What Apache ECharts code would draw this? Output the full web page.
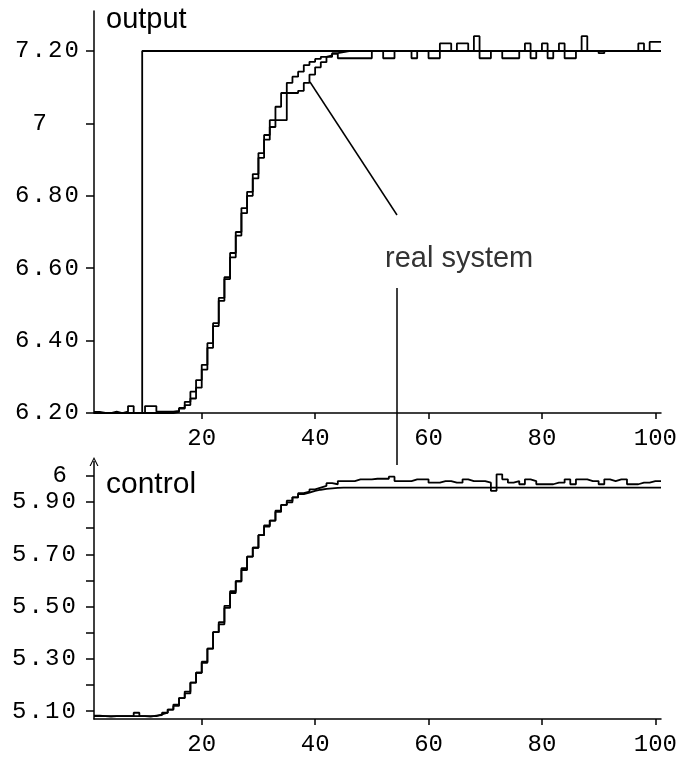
<!DOCTYPE html>
<html>
<head>
<meta charset="utf-8">
<script src="https://cdn.jsdelivr.net/npm/echarts@6/dist/echarts.min.js"></script>
<style>
  html, body { margin: 0; padding: 0; background: #fff; }
  #main { width: 692px; height: 757px; }
</style>
</head>
<body>
<div id="main"></div>
<script>
// one sample per time step, each value held until the next step
var steps = [];
for (var i = 1; i <= 101; i++) steps.push(i);

// setpoint (jumps from 6.20 to 7.20)
var setpointT = [1, 9.5, 9.5, 101];
var setpointV = [6.2, 6.2, 7.2, 7.2];

// output of the model
var outputModel = [
  6.200, 6.200, 6.200, 6.200, 6.200, 6.200, 6.200, 6.200, 6.200, 6.200,
  6.200, 6.200, 6.200, 6.200, 6.203, 6.212, 6.231, 6.259, 6.291, 6.333,
  6.393, 6.448, 6.518, 6.570, 6.642, 6.700, 6.766, 6.811, 6.860, 6.918,
  6.968, 7.009, 7.046, 7.084, 7.112, 7.129, 7.143, 7.161, 7.170, 7.178,
  7.184, 7.188, 7.194, 7.197, 7.200, 7.200, 7.200, 7.200, 7.200, 7.200,
  7.200, 7.200, 7.200, 7.200, 7.200, 7.200, 7.200, 7.200, 7.200, 7.200,
  7.200, 7.200, 7.200, 7.200, 7.200, 7.200, 7.200, 7.200, 7.200, 7.200,
  7.200, 7.200, 7.200, 7.200, 7.200, 7.200, 7.200, 7.200, 7.200, 7.200,
  7.200, 7.200, 7.200, 7.200, 7.200, 7.200, 7.200, 7.200, 7.200, 7.200,
  7.200, 7.200, 7.200, 7.200, 7.200, 7.200, 7.200, 7.200, 7.200, 7.200,
  7.200
];

// output of the real system (noisy)
var outputReal = [
  6.203, 6.200, 6.200, 6.204, 6.200, 6.204, 6.219, 6.200, 6.200, 6.219,
  6.219, 6.204, 6.204, 6.204, 6.206, 6.214, 6.222, 6.240, 6.270, 6.320,
  6.380, 6.440, 6.510, 6.575, 6.630, 6.690, 6.752, 6.800, 6.848, 6.905,
  6.955, 6.990, 7.009, 7.009, 7.084, 7.084, 7.090, 7.112, 7.135, 7.155,
  7.169, 7.184, 7.192, 7.180, 7.180, 7.180, 7.180, 7.180, 7.180, 7.200,
  7.200, 7.180, 7.180, 7.200, 7.200, 7.200, 7.180, 7.200, 7.200, 7.180,
  7.180, 7.221, 7.221, 7.200, 7.221, 7.221, 7.200, 7.241, 7.180, 7.180,
  7.200, 7.200, 7.180, 7.180, 7.180, 7.200, 7.221, 7.180, 7.200, 7.221,
  7.180, 7.200, 7.221, 7.180, 7.180, 7.200, 7.241, 7.200, 7.200, 7.194,
  7.200, 7.200, 7.200, 7.200, 7.200, 7.200, 7.221, 7.200, 7.225, 7.225,
  7.225
];

// control signal, model
var controlModel = [
  5.081, 5.081, 5.081, 5.081, 5.081, 5.081, 5.081, 5.081, 5.081, 5.081,
  5.081, 5.088, 5.094, 5.106, 5.125, 5.150, 5.175, 5.209, 5.247, 5.289,
  5.339, 5.402, 5.440, 5.503, 5.559, 5.597, 5.647, 5.691, 5.725, 5.773,
  5.811, 5.829, 5.867, 5.889, 5.899, 5.918, 5.930, 5.936, 5.943, 5.947,
  5.950, 5.952, 5.954, 5.955, 5.955, 5.955, 5.955, 5.955, 5.955, 5.955,
  5.955, 5.955, 5.955, 5.955, 5.955, 5.955, 5.955, 5.955, 5.955, 5.955,
  5.955, 5.955, 5.955, 5.955, 5.955, 5.955, 5.955, 5.955, 5.955, 5.955,
  5.955, 5.955, 5.955, 5.955, 5.955, 5.955, 5.955, 5.955, 5.955, 5.955,
  5.955, 5.955, 5.955, 5.955, 5.955, 5.955, 5.955, 5.955, 5.955, 5.955,
  5.955, 5.955, 5.955, 5.955, 5.955, 5.955, 5.955, 5.955, 5.955, 5.955,
  5.955
];

// control signal, real system
var controlReal = [
  5.083, 5.081, 5.079, 5.081, 5.081, 5.081, 5.081, 5.094, 5.081, 5.079,
  5.083, 5.085, 5.094, 5.106, 5.120, 5.150, 5.168, 5.209, 5.247, 5.285,
  5.339, 5.402, 5.432, 5.495, 5.552, 5.597, 5.640, 5.691, 5.725, 5.773,
  5.806, 5.829, 5.862, 5.889, 5.905, 5.918, 5.934, 5.940, 5.948, 5.955,
  5.962, 5.972, 5.968, 5.980, 5.980, 5.980, 5.987, 5.987, 5.987, 5.989,
  5.989, 5.989, 5.997, 5.980, 5.980, 5.980, 5.987, 5.987, 5.987, 5.974,
  5.974, 5.980, 5.980, 5.974, 5.974, 5.987, 5.980, 5.980, 5.980, 5.974,
  5.943, 6.006, 5.987, 5.974, 5.980, 5.968, 5.987, 5.980, 5.968, 5.968,
  5.968, 5.974, 5.974, 5.987, 5.968, 5.987, 5.987, 5.980, 5.980, 5.968,
  5.987, 5.980, 5.987, 5.987, 5.968, 5.968, 5.974, 5.974, 5.980, 5.980,
  5.980
];

// axis ticks and labels
var timeTicks = [20, 40, 60, 80, 100];
var outTicks = [6.2, 6.4, 6.6, 6.8, 7.0, 7.2];
var outLabels = ['6.20', '6.40', '6.60', '6.80', '7', '7.20'];
var ctrlTicks = [5.1, 5.2, 5.3, 5.4, 5.5, 5.6, 5.7, 5.8, 5.9, 6.0];
var ctrlLabelVals = [5.1, 5.3, 5.5, 5.7, 5.9, 6.0];
var ctrlLabels = ['5.10', '5.30', '5.50', '5.70', '5.90', '6'];

function pairs(ts, vs) {
  return ts.map(function (t, k) { return [t, vs[k]]; });
}

// spread the characters a bit, like the original mono labels
function spaced(vals, labels, padSingle) {
  return function (v) {
    for (var k = 0; k < vals.length; k++) {
      if (Math.abs(vals[k] - v) < 1e-6) {
        var s = labels[k];
        var out = s.split('').map(function (c) { return '{c|' + c + '}'; }).join('');
        if (s.length === 1) out += '{' + padSingle + '| }';
        return out;
      }
    }
    return '';
  };
}

var black = '#000';
var lw = 1.8;
var monoRich = {
  c: { width: 16.5, align: 'center', fontFamily: 'Liberation Mono', fontSize: 24, color: black },
  p7: { width: 32, fontSize: 24 },
  p6: { width: 9, fontSize: 24 }
};

function xAxisFor(gridIndex) {
  return {
    type: 'value', gridIndex: gridIndex, min: 1, max: 101,
    axisLine: { show: true, onZero: false, lineStyle: { color: black, width: 1.5 } },
    axisTick: { show: true, customValues: timeTicks, length: 6, lineStyle: { color: black, width: 1.5 } },
    axisLabel: { customValues: timeTicks, margin: 14, color: black, fontFamily: 'Liberation Mono', fontSize: 24 },
    splitLine: { show: false }
  };
}

var chart = echarts.init(document.getElementById('main'), null, { renderer: 'canvas' });

var option = {
  backgroundColor: '#fff',
  animation: false,
  grid: [
    { left: 94, top: 11, width: 567, height: 402 },
    { left: 94, top: 461.5, width: 567, height: 261 }
  ],
  xAxis: [xAxisFor(0), xAxisFor(1)],
  yAxis: [
    {
      type: 'value', gridIndex: 0, min: 6.2, max: 7.3105,
      axisLine: { show: true, onZero: false, lineStyle: { color: black, width: 1.5 } },
      axisTick: { show: true, customValues: outTicks, length: 8, lineStyle: { color: black, width: 1.5 } },
      axisLabel: { customValues: outTicks, margin: 14, formatter: spaced(outTicks, outLabels, 'p7'), rich: monoRich },
      splitLine: { show: false }
    },
    {
      type: 'value', gridIndex: 1, min: 5.07, max: 6.055,
      axisLine: {
        show: true, onZero: false,
        symbol: ['none', 'path://M0,10 L5,0 L10,10 L8.6,10 L5,2.6 L1.4,10 Z'], symbolSize: [9, 11],
        lineStyle: { color: black, width: 1.5 }
      },
      axisTick: { show: true, customValues: ctrlTicks, length: 8, lineStyle: { color: black, width: 1.5 } },
      axisLabel: { customValues: ctrlLabelVals, margin: 17, formatter: spaced(ctrlLabelVals, ctrlLabels, 'p6'), rich: monoRich },
      splitLine: { show: false }
    }
  ],
  series: [
    {
      name: 'setpoint', type: 'line', xAxisIndex: 0, yAxisIndex: 0,
      data: pairs(setpointT, setpointV), showSymbol: false, silent: true,
      lineStyle: { color: black, width: lw }
    },
    {
      name: 'model output', type: 'line', xAxisIndex: 0, yAxisIndex: 0, step: 'end',
      data: pairs(steps, outputModel), showSymbol: false, silent: true,
      lineStyle: { color: black, width: lw }
    },
    {
      name: 'real output', type: 'line', xAxisIndex: 0, yAxisIndex: 0, step: 'end',
      data: pairs(steps, outputReal), showSymbol: false, silent: true,
      lineStyle: { color: black, width: lw }
    },
    {
      name: 'model control', type: 'line', xAxisIndex: 1, yAxisIndex: 1, step: 'end',
      data: pairs(steps, controlModel), showSymbol: false, silent: true,
      lineStyle: { color: black, width: lw }
    },
    {
      name: 'real control', type: 'line', xAxisIndex: 1, yAxisIndex: 1, step: 'end',
      data: pairs(steps, controlReal), showSymbol: false, silent: true,
      lineStyle: { color: black, width: lw }
    }
  ],
  graphic: [
    { type: 'text', left: 106, top: 5, style: { text: 'output', fontFamily: 'Liberation Sans', fontSize: 29, fill: black } },
    { type: 'text', left: 106, top: 470, style: { text: 'control', fontFamily: 'Liberation Sans', fontSize: 30, fill: black } },
    { type: 'text', left: 385, top: 244, style: { text: 'real system', fontFamily: 'Liberation Sans', fontSize: 29, fill: '#333' } },
    { type: 'line', shape: { x1: 310, y1: 82, x2: 397, y2: 215 }, style: { stroke: black, lineWidth: 1.5 } },
    { type: 'line', shape: { x1: 397, y1: 288, x2: 397, y2: 465 }, style: { stroke: black, lineWidth: 1.5 } }
  ]
};

chart.setOption(option);
</script>
</body>
</html>
